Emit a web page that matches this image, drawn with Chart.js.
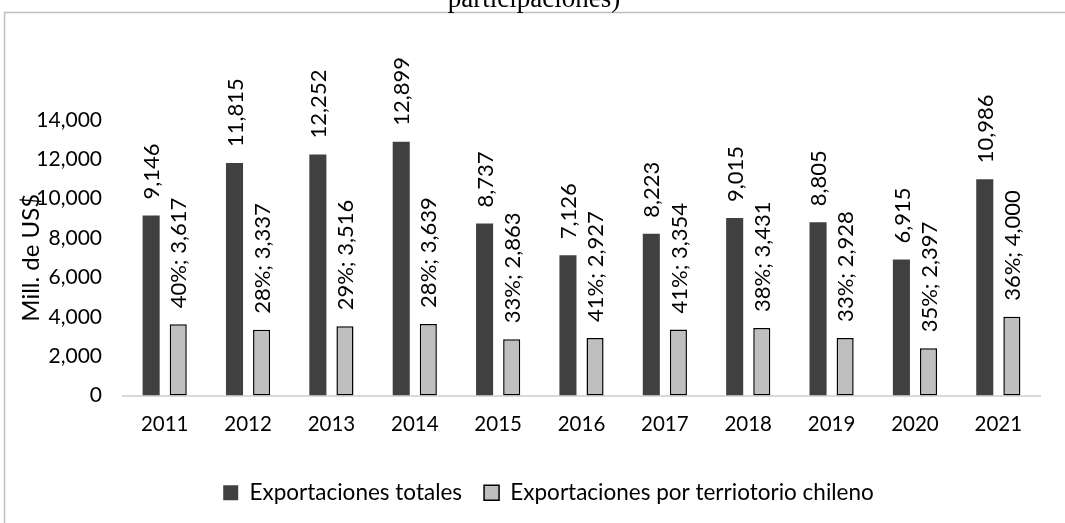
<!DOCTYPE html>
<html>
<head>
<meta charset="utf-8">
<script src="https://cdn.jsdelivr.net/npm/chart.js@4"></script>
<style>
  html, body { margin: 0; padding: 0; background: #ffffff; }
  #wrap { position: relative; width: 1065px; height: 523px; }
</style>
</head>
<body>
<div id="wrap"><canvas id="c" width="1065" height="523"></canvas></div>
<script>
const years = ['2011','2012','2013','2014','2015','2016','2017','2018','2019','2020','2021'];
const totalExports = [9146, 11815, 12252, 12899, 8737, 7126, 8223, 9015, 8805, 6915, 10986];
const chileExports = [3617, 3337, 3516, 3639, 2863, 2927, 3354, 3431, 2928, 2397, 4000];
const chileShare = [40, 28, 29, 28, 33, 41, 41, 38, 33, 35, 36];
const seriesNames = ['Exportaciones totales', 'Exportaciones por terriotorio chileno'];
const titleText = 'participaciones)';
const yAxisTitle = 'Mill. de US$';

const FONT = 'Lato';
const fmt = v => Number(v).toLocaleString('en-US');

const framePlugin = {
  id: 'frame',
  beforeDraw(chart) {
    const ctx = chart.ctx;
    ctx.save();
    ctx.fillStyle = '#ffffff';
    ctx.fillRect(0, 0, chart.width, chart.height);
    ctx.strokeStyle = '#bfbfbf';
    ctx.lineWidth = 1.5;
    ctx.strokeRect(4.5, 12.5, 1200, 1000);
    ctx.fillStyle = '#000000';
    ctx.font = '27px "Liberation Serif"';
    ctx.textAlign = 'center';
    ctx.textBaseline = 'alphabetic';
    ctx.fillText(titleText, 534, 7);
    ctx.restore();
  }
};

const legendShift = {
  id: 'legendShift',
  afterLayout(chart) {
    if (chart.legend) {
      chart.legend.left += 20;
      chart.legend.right += 20;
    }
  }
};

const labelPlugin = {
  id: 'barLabels',
  afterDatasetsDraw(chart) {
    const ctx = chart.ctx;
    ctx.save();
    ctx.fillStyle = '#000000';
    ctx.font = '22px ' + FONT;
    ctx.textAlign = 'left';
    ctx.textBaseline = 'middle';
    chart.data.datasets.forEach((ds, di) => {
      const meta = chart.getDatasetMeta(di);
      meta.data.forEach((el, i) => {
        const txt = di === 0 ? fmt(ds.data[i]) : chileShare[i] + '%; ' + fmt(ds.data[i]);
        ctx.save();
        ctx.translate(el.x + 1, el.y - 16);
        ctx.rotate(-Math.PI / 2);
        ctx.fillText(txt, 0, 0);
        ctx.restore();
      });
    });
    ctx.restore();
  }
};

new Chart(document.getElementById('c'), {
  type: 'bar',
  data: {
    labels: years,
    datasets: [
      {
        label: seriesNames[0],
        data: totalExports,
        backgroundColor: '#404040',
        borderColor: '#404040',
        borderWidth: 0
      },
      {
        label: seriesNames[1],
        data: chileExports,
        backgroundColor: '#bfbfbf',
        borderColor: '#000000',
        borderWidth: 1.5,
        borderSkipped: false
      }
    ]
  },
  options: {
    responsive: false,
    animation: false,
    devicePixelRatio: 1,
    categoryPercentage: 0.65,
    barPercentage: 0.63,
    layout: { padding: { left: 17, right: 25, top: 120, bottom: 9 } },
    plugins: {
      legend: {
        position: 'bottom',
        labels: {
          font: { family: FONT, size: 22.5 },
          color: '#000000',
          boxWidth: 15,
          boxHeight: 15,
          padding: 22
        }
      },
      title: { display: false },
      tooltip: { enabled: false }
    },
    scales: {
      x: {
        grid: { display: false },
        border: { display: true, color: '#d9d9d9', width: 2 },
        ticks: { font: { family: FONT, size: 20.5 }, color: '#000000', padding: 9 },
        afterFit(scale) { scale.height = 64; }
      },
      y: {
        min: 0,
        max: 14000,
        grid: { display: false },
        border: { display: false },
        ticks: {
          stepSize: 2000,
          font: { family: FONT, size: 21 },
          color: '#000000',
          padding: 13,
          callback: v => fmt(v)
        },
        title: {
          display: true,
          text: yAxisTitle,
          font: { family: FONT, size: 24 },
          color: '#000000',
          padding: 0
        },
        afterFit(scale) { scale.width = 106; }
      }
    }
  },
  plugins: [framePlugin, legendShift, labelPlugin]
});
</script>
</body>
</html>
